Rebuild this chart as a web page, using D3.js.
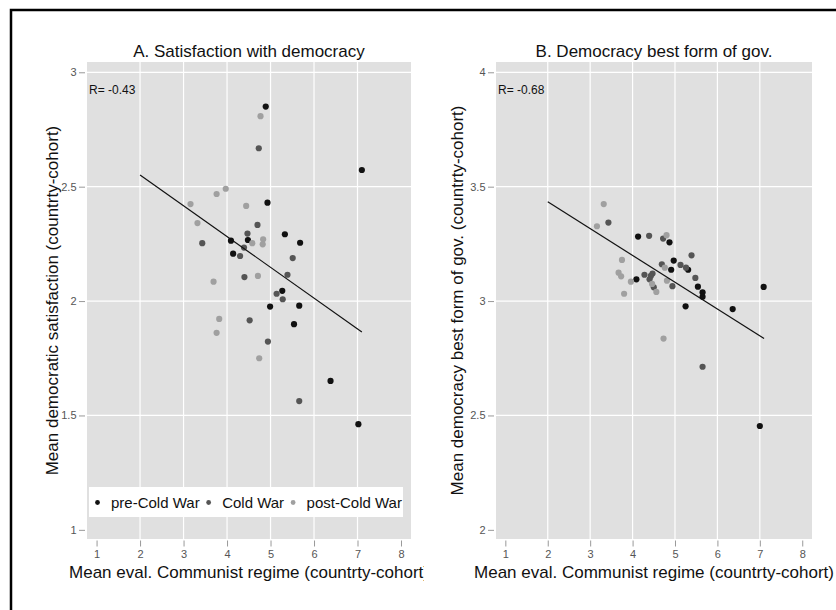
<!DOCTYPE html>
<html>
<head>
<meta charset="utf-8">
<script src="https://cdn.jsdelivr.net/npm/d3@7"></script>
<style>
  body { margin: 0; background: #fff; }
  text { font-family: "Liberation Sans", Arial, Helvetica, sans-serif; }
</style>
</head>
<body>
<script>
const width = 836;
const height = 610;

// tick labels
const xTicks = [1, 2, 3, 4, 5, 6, 7, 8];
const xGrid = [2, 3, 4, 5, 6, 7];
const satTicks = [1, 1.5, 2, 2.5, 3];
const satGrid = [1.5, 2, 2.5, 3];
const bestTicks = [2, 2.5, 3, 3.5, 4];
const bestGrid = [2.5, 3, 3.5, 4];

const cohorts = ["pre-Cold War", "Cold War", "post-Cold War"];
const cohortColors = ["#111111", "#555555", "#a0a0a0"];

// panel A: satisfaction with democracy, [eval, satisfaction]
const satPre = [[4.89, 2.85], [7.10, 2.573], [4.93, 2.43], [5.33, 2.292], [4.09, 2.264], [4.48, 2.267],
  [5.68, 2.255], [4.14, 2.207], [5.27, 2.045], [4.99, 1.976], [5.66, 1.98], [5.54, 1.899], [6.38, 1.651], [7.02, 1.462]];
const satCold = [[4.73, 2.668], [4.70, 2.333], [4.47, 2.295], [3.43, 2.253], [4.39, 2.234], [4.30, 2.197],
  [5.51, 2.188], [5.39, 2.115], [4.40, 2.105], [5.14, 2.032], [5.28, 2.008], [4.52, 1.916], [4.94, 1.823], [5.66, 1.563]];
const satPost = [[4.77, 2.808], [3.97, 2.491], [3.76, 2.468], [3.16, 2.424], [4.44, 2.416], [3.32, 2.341],
  [4.83, 2.27], [4.58, 2.253], [4.82, 2.248], [4.71, 2.11], [3.69, 2.085], [3.82, 1.922], [3.76, 1.861], [4.74, 1.75]];

// panel B: democracy best form of government
const bestPre = [[4.13, 3.282], [4.87, 3.257], [4.97, 3.177], [4.91, 3.137], [5.31, 3.137], [4.09, 3.095],
  [5.54, 3.063], [5.65, 3.038], [5.65, 3.019], [7.09, 3.062], [5.25, 2.977], [6.36, 2.965], [7.00, 2.454]];
const bestCold = [[3.43, 3.343], [4.39, 3.285], [4.72, 3.273], [5.39, 3.2], [4.69, 3.161], [5.13, 3.158],
  [5.26, 3.146], [4.28, 3.115], [4.47, 3.12], [4.43, 3.11], [4.40, 3.095], [5.48, 3.101], [4.50, 3.06],
  [4.94, 3.065], [5.65, 2.713]];
const bestPost = [[3.32, 3.424], [3.16, 3.327], [4.80, 3.288], [3.75, 3.18], [4.76, 3.146], [3.67, 3.124],
  [3.73, 3.108], [3.96, 3.085], [4.81, 3.089], [4.46, 3.075], [4.56, 3.04], [3.80, 3.032], [4.73, 2.836]];

// fitted lines, endpoints
const satFitX = [2, 7.1];
const satFitY = [2.551, 1.865];
const bestFitX = [2, 7.1];
const bestFitY = [3.434, 2.836];

const svg = d3.select("body").append("svg")
  .attr("width", width)
  .attr("height", height);

const defs = svg.append("defs");

// outer frame, cut off at the right and bottom
svg.append("rect")
  .attr("x", 11).attr("y", 10)
  .attr("width", 1000).attr("height", 1000)
  .attr("fill", "none")
  .attr("stroke", "#000")
  .attr("stroke-width", 2.5);

const plotTop = 62;
const plotBottom = 539;
const xDomain = [0.78, 8.23];

function drawPanel(p) {
  defs.append("clipPath").attr("id", p.id + "-clip")
    .append("rect")
    .attr("x", p.clip[0]).attr("y", 12)
    .attr("width", p.clip[1] - p.clip[0]).attr("height", height);

  const g = svg.append("g").attr("clip-path", `url(#${p.id}-clip)`);

  const x = d3.scaleLinear().domain(xDomain).range([p.left, p.right]);
  const y = d3.scaleLinear().domain(p.yDomain).range([plotBottom, plotTop]);

  g.append("rect")
    .attr("x", p.left).attr("y", plotTop)
    .attr("width", p.right - p.left).attr("height", plotBottom - plotTop)
    .attr("fill", "#e0e0e0");

  g.selectAll(".vgrid").data(xGrid).join("line")
    .attr("x1", d => x(d)).attr("x2", d => x(d))
    .attr("y1", plotTop).attr("y2", plotBottom)
    .attr("stroke", "#fff").attr("stroke-width", 1.2);

  g.selectAll(".hgrid").data(p.yGrid).join("line")
    .attr("x1", p.left).attr("x2", p.right)
    .attr("y1", d => y(d)).attr("y2", d => y(d))
    .attr("stroke", "#fff").attr("stroke-width", 1.2);

  const xAxis = g.append("g")
    .attr("transform", `translate(0,${plotBottom + 1.5})`)
    .call(d3.axisBottom(x).tickValues(xTicks).tickSize(6).tickPadding(4).tickFormat(d3.format("~g")));

  const yAxis = g.append("g")
    .attr("transform", `translate(${p.left - 2},0)`)
    .call(d3.axisLeft(y).tickValues(p.yTicks).tickSize(6).tickPadding(2.5).tickFormat(d3.format("~g")));

  [xAxis, yAxis].forEach(a => {
    a.select(".domain").remove();
    a.selectAll(".tick line").attr("stroke", "#999").attr("stroke-width", 1);
    a.selectAll(".tick text")
      .attr("fill", "#555")
      .attr("font-size", "11px")
      .attr("font-family", "\"Liberation Sans\", Arial, sans-serif");
  });

  p.series.forEach((pts, i) => {
    g.append("g").selectAll("circle").data(pts).join("circle")
      .attr("cx", d => x(d[0]))
      .attr("cy", d => y(d[1]))
      .attr("r", 3.1)
      .attr("fill", cohortColors[i]);
  });

  g.append("line")
    .attr("x1", x(p.fitX[0])).attr("y1", y(p.fitY[0]))
    .attr("x2", x(p.fitX[1])).attr("y2", y(p.fitY[1]))
    .attr("stroke", "#111").attr("stroke-width", 1.2);

  g.append("text")
    .attr("x", p.left + 2)
    .attr("y", 93.5)
    .attr("font-size", "12px")
    .attr("fill", "#111")
    .text(p.rLabel);

  const mid = (p.left + p.right) / 2;

  g.append("text")
    .attr("x", mid).attr("y", 57)
    .attr("text-anchor", "middle")
    .attr("font-size", "17px")
    .attr("fill", "#111")
    .text(p.title);

  g.append("text")
    .attr("x", mid).attr("y", 578)
    .attr("text-anchor", "middle")
    .attr("font-size", "17px")
    .attr("fill", "#111")
    .text("Mean eval. Communist regime (countrty-cohort)");

  g.append("text")
    .attr("transform", `translate(${p.left - p.yTitleGap},${(plotTop + plotBottom) / 2}) rotate(-90)`)
    .attr("text-anchor", "middle")
    .attr("font-size", "17px")
    .attr("fill", "#111")
    .text(p.yTitle);

  return { g, x, y };
}

const panelA = drawPanel({
  id: "a", left: 87, right: 411, clip: [12, 424],
  yDomain: [0.96, 3.045], yTicks: satTicks, yGrid: satGrid,
  series: [satPre, satCold, satPost],
  fitX: satFitX, fitY: satFitY,
  rLabel: "R= -0.43",
  title: "A. Satisfaction with democracy",
  yTitle: "Mean democratic satisfaction (countrty-cohort)",
  yTitleGap: 29
});

drawPanel({
  id: "b", left: 496, right: 812, clip: [424, width],
  yDomain: [1.96, 4.045], yTicks: bestTicks, yGrid: bestGrid,
  series: [bestPre, bestCold, bestPost],
  fitX: bestFitX, fitY: bestFitY,
  rLabel: "R= -0.68",
  title: "B. Democracy best form of gov.",
  yTitle: "Mean democracy best form of gov. (countrty-cohort)",
  yTitleGap: 33
});

// legend inside panel A
const legend = panelA.g.append("g");
legend.append("rect")
  .attr("x", 89).attr("y", 487)
  .attr("width", 314).attr("height", 30)
  .attr("fill", "#fff");

let lx = 97.5;
cohorts.forEach((name, i) => {
  legend.append("circle")
    .attr("cx", lx).attr("cy", 502.5)
    .attr("r", 2.4)
    .attr("fill", cohortColors[i]);
  const t = legend.append("text")
    .attr("x", lx + 13.5).attr("y", 508)
    .attr("font-size", "15px")
    .attr("fill", "#111")
    .text(name);
  lx = lx + 13.5 + t.node().getComputedTextLength() + 9;
});
</script>
</body>
</html>
